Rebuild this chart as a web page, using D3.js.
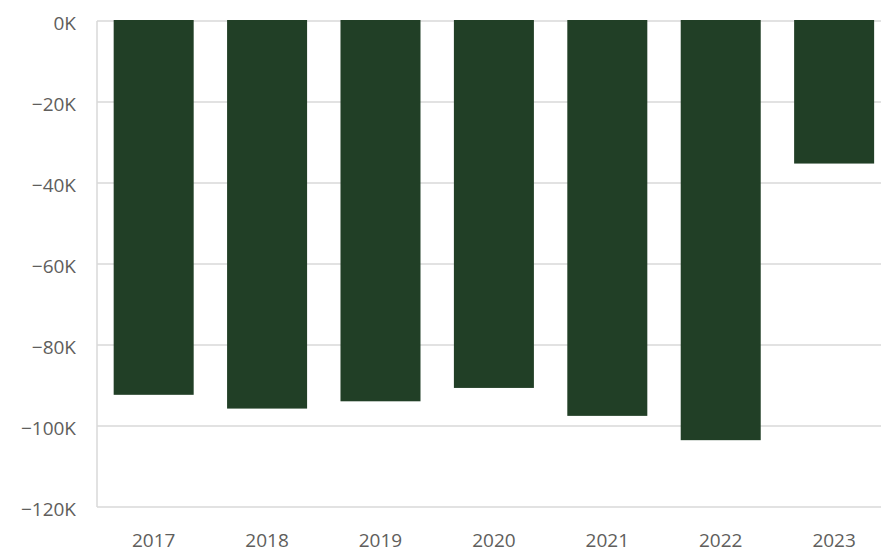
<!DOCTYPE html>
<html>
<head>
<meta charset="utf-8">
<script src="https://cdn.jsdelivr.net/npm/d3@7"></script>
<style>
  html, body { margin: 0; padding: 0; background: #fff; }
  svg { display: block; }
  .tick text { font-family: "Open Sans", sans-serif; fill: #605e5c; }
</style>
</head>
<body>
<div id="chart"></div>
<script>
const years = ['2017', '2018', '2019', '2020', '2021', '2022', '2023']
const values = [-92300, -95700, -93900, -90600, -97500, -103500, -35200]
const yTicks = [0, -20000, -40000, -60000, -80000, -100000, -120000]

drawChart()

function drawChart () {
  const width = 881
  const height = 553
  const margin = { top: 21, left: 97, bottom: 507 }

  const x = d3.scaleBand()
    .domain(years)
    .range([margin.left, margin.left + 7 * 113.4])
    .paddingInner(0.2945)
    .paddingOuter(0.147)

  const y = d3.scaleLinear()
    .domain([0, -120000])
    .range([margin.top, margin.bottom])

  const fmt = v => (v === 0 ? '0K' : '\u2212' + Math.abs(v / 1000) + 'K')

  const svg = d3.select('#chart')
    .append('svg')
    .attr('width', width)
    .attr('height', height)

  // gridlines
  svg.append('g')
    .selectAll('line')
    .data(yTicks)
    .join('line')
    .attr('x1', margin.left)
    .attr('x2', width)
    .attr('y1', d => y(d))
    .attr('y2', d => y(d))
    .attr('stroke', '#d9d9d9')
    .attr('stroke-width', 1.5)

  svg.append('line')
    .attr('x1', margin.left)
    .attr('x2', margin.left)
    .attr('y1', y(0))
    .attr('y2', y(-120000))
    .attr('stroke', '#d9d9d9')
    .attr('stroke-width', 1.5)

  svg.append('g')
    .selectAll('rect')
    .data(values)
    .join('rect')
    .attr('x', (d, i) => x(years[i]))
    .attr('width', x.bandwidth())
    .attr('y', y(0) - 1)
    .attr('height', d => y(d) - y(0) + 1)
    .attr('fill', '#213f26')

  const yAxis = d3.axisLeft(y)
    .tickValues(yTicks)
    .tickFormat(fmt)
    .tickSize(0)
    .tickPadding(21)

  svg.append('g')
    .attr('transform', `translate(${margin.left},2)`)
    .call(yAxis)
    .call(g => g.select('.domain').remove())
    .selectAll('text')
    .style('font-size', '19px')

  const xAxis = d3.axisBottom(x)
    .tickSize(0)
    .tickPadding(27)

  svg.append('g')
    .attr('transform', `translate(0,${margin.bottom})`)
    .call(xAxis)
    .call(g => g.select('.domain').remove())
    .selectAll('text')
    .style('font-size', '19px')
}
</script>
</body>
</html>
